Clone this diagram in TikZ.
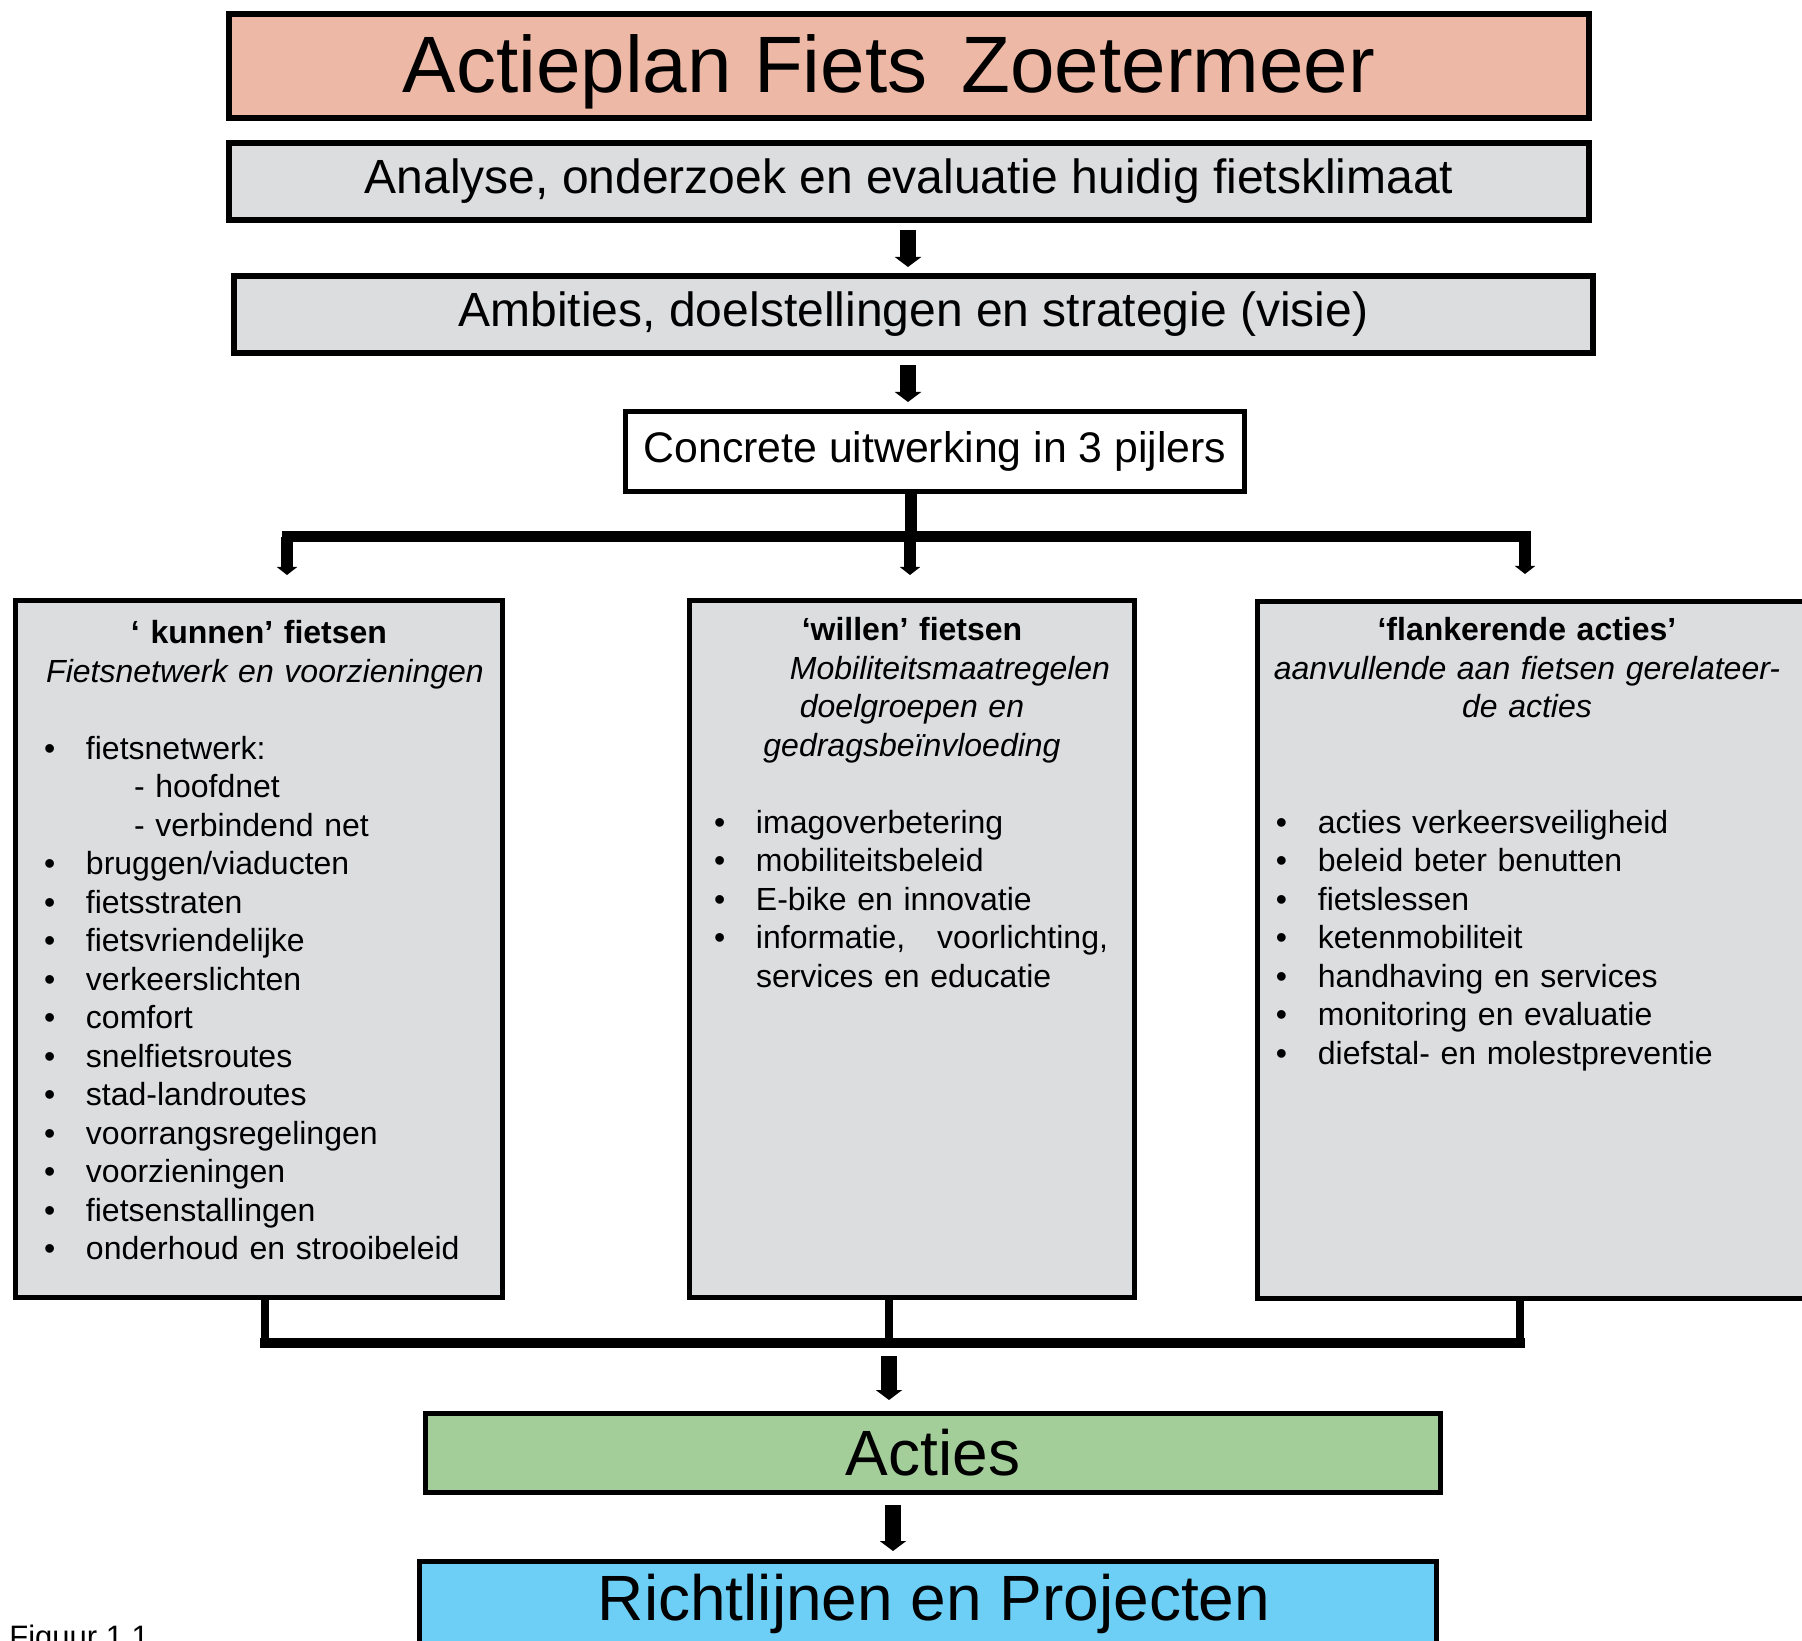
\documentclass[tikz,border=0pt]{standalone}
\usepackage{fontspec}
\setmainfont{Liberation Sans}
\definecolor{planZalm}{HTML}{EDB8A5}
\definecolor{planGrijs}{HTML}{DCDDDF}
\definecolor{planGroen}{HTML}{A3CE99}
\definecolor{planBlauw}{HTML}{6DCFF5}
\usetikzlibrary{
	arrows.meta,
	positioning
}
\tikzset{
	kader/.style={
		draw=black,
		line width=2.5pt,
		inner sep=0pt,
		align=center
	},
	titel/.style={
		kader,
		line width=3pt,
		fill=planZalm,
		minimum width=680pt,
		minimum height=52pt,
		font=\fontsize{40}{48}\selectfont
	},
	fase/.style={
		kader,
		line width=3pt,
		fill=planGrijs,
		minimum height=38.5pt,
		font=\fontsize{24}{29}\selectfont
	},
	pijler/.style={
		kader,
		fill=planGrijs,
		minimum height=348.5pt
	},
	pijlertekst/.style={
		inner sep=0pt,
		font=\fontsize{16}{19.25}\selectfont
	},
	groot/.style={
		font=\fontsize{32}{38}\selectfont
	},
	pijl/.style={
		-{Triangle[width=13pt,length=5pt]},
		line width=8pt
	},
	pijlSmal/.style={
		-{Triangle[width=10pt,length=4pt]},
		line width=6pt
	},
	balk/.style={
		line width=5.5pt,
		line cap=rect
	},
	stam/.style={
		line width=6pt
	},
	balkOnder/.style={
		line width=5pt,
		line cap=rect
	},
	stamOnder/.style={
		line width=4pt
	}
}
\newcommand{\punt}[1]{\hangindent=21pt\hangafter=1\noindent\makebox[21pt][l]{\textbullet}#1\par}
\newcommand{\subpunt}[1]{\noindent\hspace*{45pt}#1\par}

\begin{document}
\begin{tikzpicture}[x=0.5pt,y=-0.5pt]
	\useasboundingbox (0,0) rectangle (1802,1641);
	\clip (0,0) rectangle (1802,1641);
	\node[titel] (titel) at (909,66) {\hspace*{-20pt}Actieplan Fiets\hspace{6pt} Zoetermeer\rule{0pt}{35pt}};
	\node[fase, minimum width=680pt] (analyse) at (909,181.5) {Analyse, onderzoek en evaluatie huidig fietsklimaat};
	\node[fase, minimum width=679.5pt] (ambities) at (913.5,314.5) {Ambities, doelstellingen en strategie (visie)};
	\node[kader, fill=white, minimum width=309.5pt, minimum height=40pt, font=\fontsize{21.4}{25}\selectfont] (concreet) at (935,451.5) {Concrete uitwerking in 3 pijlers};

	\node[pijler, minimum width=243.5pt] (kunnen) at (259,949) {};
	\node[pijler, minimum width=222.5pt] (willen) at (912,949) {};
	\node[pijler, minimum width=277pt] (flankerend) at (1534.75,950) {};

	\node[pijlertekst, text width=215pt, below=9.3pt of kunnen.north] (kunnentekst) {%
		{\centering\strut\textbf{‘ kunnen’ fietsen}\\ \makebox[0pt]{\itshape\hspace*{6pt}Fietsnetwerk en voorzieningen}\\ \mbox{}\par}
		\punt{fietsnetwerk:}
		\subpunt{- hoofdnet}
		\subpunt{- verbindend net}
		\punt{bruggen/viaducten}
		\punt{fietsstraten}
		\punt{fietsvriendelijke}
		\punt{verkeerslichten}
		\punt{comfort}
		\punt{snelfietsroutes}
		\punt{stad-landroutes}
		\punt{voorrangsregelingen}
		\punt{voorzieningen}
		\punt{fietsenstallingen}
		\punt{onderhoud en strooibeleid}};
	\node[pijlertekst, text width=198pt, below=7.7pt of willen.north] (willentekst) {%
		{\centering\strut\textbf{‘willen’ fietsen}\\ \itshape\makebox[0pt]{\hspace*{38pt}Mobiliteitsmaatregelen}\\ doelgroepen en\\ gedragsbeïnvloeding\\ \mbox{}\par}
		\punt{imagoverbetering}
		\punt{mobiliteitsbeleid}
		\punt{E-bike en innovatie}
		\punt{\makebox[176pt]{informatie,\hfill voorlichting,}\newline services en educatie}};
	\node[pijlertekst, text width=270pt, below=7.3pt of flankerend.north, xshift=-3.9pt] (flankerendtekst) {%
		{\centering\strut\textbf{‘flankerende acties’}\\ \makebox[0pt]{\itshape aanvullende aan fietsen gerelateer-}\\ \textit{de acties}\\ \mbox{}\\ \mbox{}\par}
		\leftskip=9.5pt
		\punt{acties verkeersveiligheid}
		\punt{beleid beter benutten}
		\punt{fietslessen}
		\punt{ketenmobiliteit}
		\punt{handhaving en services}
		\punt{monitoring en evaluatie}
		\punt{diefstal- en molestpreventie}};

	\node[kader, fill=planGroen, groot, minimum width=507.5pt, minimum height=39.5pt] (acties) at (933,1453) {Acties};
	\node[kader, fill=planBlauw, minimum width=508.5pt, minimum height=60pt] (richtlijnen) at (928,1621.5) {};
	\node[groot, anchor=base, xshift=3pt] (richtlijnentekst) at ([yshift=-30.5pt]richtlijnen.north) {Richtlijnen en Projecten};
	\node[anchor=base west, inner sep=0pt, font=\fontsize{15.5}{18}\selectfont] (figuur) at (9,1647) {Figuur 1.1};

	\coordinate (as) at (908,0);
	\coordinate (tak) at (911,537);
	\coordinate (takl) at (287,537);
	\coordinate (takm) at (910,537);
	\coordinate (takr) at (1525,537);
	\coordinate (samk) at (265,1343);
	\coordinate (samm) at (889,1343);
	\coordinate (samf) at (1520,1343);

	\draw[pijl, shorten <=3.5pt, shorten >=3pt] (as |- analyse.south) -- (as |- ambities.north);
	\draw[pijl, shorten <=4.5pt, shorten >=3.5pt] (as |- ambities.south) -- (as |- concreet.north);
	\draw[stam] (concreet.south -| tak) -- (tak);
	\draw[balk] (takl) -- (takr);
	\draw[pijlSmal, shorten >=11.5pt] (takl) -- (takl |- kunnen.north);
	\draw[pijlSmal, shorten >=11.5pt] (takm) -- (takm |- willen.north);
	\draw[pijlSmal, shorten >=12.5pt] (takr) -- (takr |- flankerend.north);
	\draw[stamOnder] (kunnen.south -| samk) -- (samk);
	\draw[stamOnder] (willen.south -| samm) -- (samm);
	\draw[stamOnder] (flankerend.south -| samf) -- (samf);
	\draw[balkOnder] (samk) -- (samf);
	\draw[pijl, shorten <=6.5pt, shorten >=5.5pt] (samm) -- (samm |- acties.north);
	\draw[pijl, shorten <=5pt, shorten >=4pt] ([xshift=-20pt]acties.south) -- ([xshift=-20pt]acties.south |- richtlijnen.north);
\end{tikzpicture}
\end{document}
